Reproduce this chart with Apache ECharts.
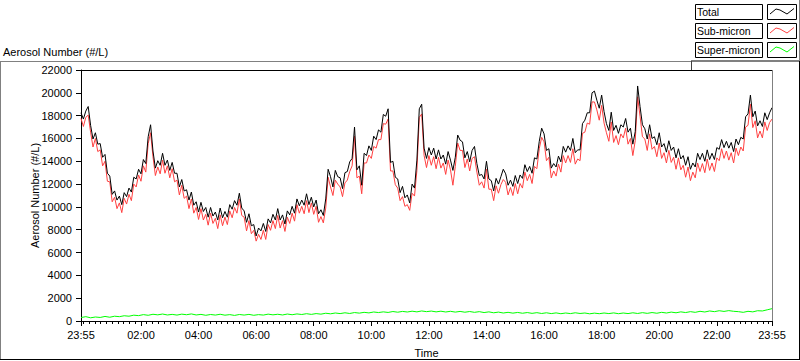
<!DOCTYPE html>
<html><head><meta charset="utf-8">
<script src="https://cdn.jsdelivr.net/npm/echarts@6/dist/echarts.min.js"></script>
<style>html,body{margin:0;padding:0;background:#fff}#c{width:800px;height:361px}</style>
</head><body><div id="c"></div>
<script>
// Series names
const seriesNames = ['Total', 'Sub-micron', 'Super-micron'];
// sampling step (minutes after 23:55) of each series
const stepMain = 5;
const stepSuper = 10;
// Total aerosol number (#/L), every 5 min from 23:55
const total = [
18250,17700,18400,18800,17150,15950,16500,15500,15550,14350,
14600,12950,12700,11100,11400,10600,10950,10200,11250,10900,
11650,11300,12600,12450,13300,12900,14150,13800,16150,17200,
14900,13400,14050,13650,14700,13650,14100,13200,13900,12950,
12950,11750,12400,11400,11500,10600,11300,10150,10450,9550,
10400,9600,9950,9100,9950,9200,9550,8850,9900,9050,
9600,9100,10200,9800,10550,10150,11200,9900,9650,8650,
9400,8350,8450,7450,8150,7900,8550,7850,8950,8600,
9350,8850,9850,8850,9300,8500,9650,9300,10050,9450,
10700,10100,10600,10150,11150,10200,10850,10000,10600,9400,
9750,9250,10700,13300,12650,11750,13200,12650,12550,11600,
13000,13100,13950,14250,17000,13250,13600,11900,14700,14500,
15350,14950,16200,15900,16750,16550,18100,17950,18600,13900,
14000,12600,12450,11250,11800,10800,11050,10350,12000,11650,
14100,18600,19000,15150,14250,15200,14550,15150,14200,15000,
14200,14550,13750,14850,14100,13200,14350,16300,15850,15700,
14300,14850,13950,14950,15300,13800,12750,12850,12450,14000,
12450,12300,11400,12500,12000,12650,13300,12900,11900,12350,
11800,12750,12050,12800,12500,13700,13100,13550,12950,14300,
14200,15750,16900,16400,14950,15100,13400,13800,13500,14450,
13950,15300,14800,15350,14950,16000,14750,15000,15000,17300,
17600,18250,18250,20000,20150,19350,18650,19800,18350,17300,
16700,18300,16700,17150,16450,17200,17000,17750,16550,16900,
15500,16600,20600,18800,17200,16850,15950,17200,16000,16150,
15450,16500,15250,15550,14800,15800,14950,15250,14300,15100,
14200,14500,13650,14400,13300,13850,13500,14700,14150,14700,
14000,15000,14150,14700,14150,15200,15050,15900,15200,15750,
15150,15650,14850,15950,15450,16100,15950,17900,18150,19800,
17900,18400,17100,17550,17050,18250,17650,18250,18700
];
// Sub-micron aerosol number (#/L), every 5 min from 23:55
const subMicron = [
17750,17050,17850,18050,16550,15250,16000,14850,15000,13600,
14000,12250,12200,10450,10850,9850,10350,9500,10750,10250,
11100,10550,12000,11750,12800,12250,13600,13050,15550,16500,
14400,12750,13500,12900,14100,12950,13600,12550,13350,12200,
12350,11050,11900,10750,10950,9850,10700,9450,9950,8900,
9850,8850,9350,8400,9450,8550,9000,8100,9300,8350,
9100,8450,9650,9050,9950,9450,10700,9250,9100,7900,
8800,7650,7950,7000,7600,7150,7950,7150,8450,7950,
8800,8100,9250,8150,8800,7850,9100,8550,9450,8750,
10200,9450,10050,9400,10550,9500,10350,9350,10050,8650,
9150,8600,9900,12600,11750,11000,12350,12000,11750,10900,
12100,12350,13100,13600,16200,12550,12700,11150,13850,13850,
14550,14250,15300,15150,15900,15900,17300,17250,17700,13150,
13150,11950,11650,10550,10900,10050,10200,9700,11200,10950,
13200,17850,18150,14500,13450,14500,13650,14400,13350,14350,
13400,13850,12850,14100,13250,11900,13550,15600,14950,14950,
13450,14200,13150,14250,14400,13050,11900,12200,11650,13300,
11550,11550,10550,11850,11200,11950,12400,12150,11050,11700,
11000,12050,11150,12050,11650,13050,12300,12850,12050,13550,
13350,15100,16100,15700,14050,14350,12550,13150,12700,13750,
13050,14500,13850,14500,13900,15100,13750,14200,14050,16450,
16550,17350,17250,19200,19200,18500,17600,18900,17350,16500,
15750,17450,15650,16250,15450,16400,16050,16900,15500,16000,
14500,15800,19650,17950,16150,15950,14950,16400,15050,15300,
14400,15600,14250,14750,13850,14950,13900,14350,13300,14300,
13250,13650,12600,13500,12300,13050,12550,13850,13100,13800,
13000,14200,13200,13850,13100,14300,14050,15100,14250,14900,
14100,14750,13850,15150,14500,15250,14900,17000,17150,19000,
16950,17550,16050,16650,16050,17450,16700,17400,17700
];
// Super-micron aerosol number (#/L), every 10 min from 23:55
const superMicron = [
300,380,280,350,310,400,330,420,380,460,
420,510,470,560,500,590,540,610,530,580,
520,600,550,620,530,580,500,570,520,590,
510,560,490,570,520,580,500,560,520,600,
540,590,530,610,550,620,570,640,580,650,
600,680,630,700,650,720,660,740,690,760,
710,790,740,800,750,830,770,840,790,860,
800,880,820,870,800,860,790,850,780,840,
770,830,760,820,740,800,720,780,700,760,
690,750,680,740,670,730,660,720,650,710,
640,700,650,720,660,700,630,690,640,700,
650,710,640,700,650,720,660,730,670,740,
680,760,700,780,720,800,740,820,760,850,
790,880,820,900,840,910,850,820,760,850,
800,900,880,980,1080
];
// Axis ticks (minutes after 23:55) and their labels
const tickValues = [0,125,245,365,485,605,725,845,965,1085,1205,1325,1440];
const tickLabels = ['23:55','02:00','04:00','06:00','08:00','10:00','12:00','14:00','16:00','18:00','20:00','22:00','23:55'];
const minorTicks = [];
for (let m = 5; m < 1440; m += 12) minorTicks.push(m);

const FONT = "'Liberation Sans', Arial, sans-serif";
const toPairs = (arr, step) => arr.map((v, i) => [i * step, v]);

const legendColors = ['#000000', '#ff4040', '#00ff00'];
const legendGraphics = [];
seriesNames.forEach((name, r) => {
  const y0 = 4 + 19 * r;
  legendGraphics.push({type: 'rect', shape: {x: 695.5, y: y0 + 0.5, width: 67, height: 15}, style: {fill: '#fff', stroke: '#000', lineWidth: 1}});
  legendGraphics.push({type: 'text', x: 697, y: y0 + 8, style: {text: name, fill: '#000', font: '10.5px ' + FONT, textVerticalAlign: 'middle', textAlign: 'left'}});
  legendGraphics.push({type: 'rect', shape: {x: 767.5, y: y0 + 0.5, width: 29, height: 15}, style: {fill: '#fff', stroke: '#000', lineWidth: 1}});
  legendGraphics.push({type: 'polyline', shape: {points: [[770, y0 + 10], [776, y0 + 5], [780, y0 + 6], [787, y0 + 10], [794, y0 + 4.5]]}, style: {stroke: legendColors[r], lineWidth: 1, fill: null}});
});
const frameLine = (x1, y1, x2, y2, c) => ({type: 'line', shape: {x1, y1, x2, y2}, style: {stroke: c, lineWidth: 1}, z: 10});

const chart = echarts.init(document.getElementById('c'), null, {renderer: 'svg'});
chart.setOption({
  animation: false,
  backgroundColor: '#fff',
  title: {text: 'Aerosol Number (#/L)', left: 3, top: 46, padding: 0, textStyle: {fontSize: 11, fontWeight: 'normal', color: '#000', fontFamily: FONT}},
  grid: {left: 81, right: 28, top: 70, bottom: 40, outerBoundsMode: 'none', containLabel: false},
  xAxis: [{
    type: 'value', min: 0, max: 1440,
    name: 'Time', nameLocation: 'middle', nameGap: 26, nameMoveOverlap: false,
    nameTextStyle: {fontSize: 11, color: '#000', fontFamily: FONT},
    axisLine: {show: true, lineStyle: {color: '#000', width: 1}},
    axisTick: {show: true, customValues: tickValues, length: 5, lineStyle: {color: '#000'}},
    axisLabel: {customValues: tickValues, formatter: v => tickLabels[tickValues.indexOf(v)], margin: 8, fontSize: 11, color: '#000', fontFamily: FONT},
    splitLine: {show: false}
  }, {
    type: 'value', min: 0, max: 1440, position: 'bottom',
    axisLine: {show: false},
    axisTick: {show: true, customValues: minorTicks, length: 3, lineStyle: {color: '#000'}},
    axisLabel: {show: false},
    splitLine: {show: false}
  }],
  yAxis: {
    type: 'value', min: 0, max: 22000, interval: 2000,
    name: 'Aerosol Number (#/L)', nameLocation: 'middle', nameGap: 41, nameMoveOverlap: false,
    nameTextStyle: {fontSize: 11, color: '#000', fontFamily: FONT},
    axisLine: {show: true, lineStyle: {color: '#000', width: 1}},
    axisTick: {show: true, length: 5, lineStyle: {color: '#000'}},
    axisLabel: {margin: 9, fontSize: 11, color: '#000', fontFamily: FONT, formatter: v => String(v)},
    splitLine: {show: false}
  },
  series: [
    {name: seriesNames[2], type: 'line', data: toPairs(superMicron, stepSuper), showSymbol: false, lineStyle: {color: legendColors[2], width: 1}, itemStyle: {color: legendColors[2]}, z: 2},
    {name: seriesNames[1], type: 'line', data: toPairs(subMicron, stepMain), showSymbol: false, lineStyle: {color: legendColors[1], width: 1}, itemStyle: {color: legendColors[1]}, z: 3},
    {name: seriesNames[0], type: 'line', data: toPairs(total, stepMain), showSymbol: false, lineStyle: {color: legendColors[0], width: 1}, itemStyle: {color: legendColors[0]}, z: 4}
  ],
  graphic: [
    frameLine(0.5, 61.5, 0.5, 360, '#808080'),
    frameLine(0, 61.5, 800, 61.5, '#808080'),
    frameLine(691, 60.5, 800, 60.5, '#808080'),
    frameLine(691.5, 61, 691.5, 70, '#404040'),
    frameLine(799.5, 0, 799.5, 61, '#808080'),
    frameLine(799.5, 61, 799.5, 360, '#000'),
    frameLine(0, 359.5, 800, 359.5, '#000'),
    frameLine(81, 70.5, 772, 70.5, '#000'),
    frameLine(772.5, 70, 772.5, 321, '#808080')
  ].concat(legendGraphics)
});
</script></body></html>
